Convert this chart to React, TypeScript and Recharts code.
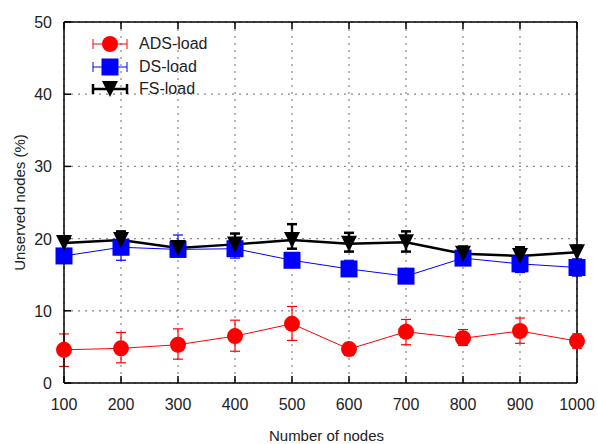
import {
  ComposedChart,
  Line,
  XAxis,
  YAxis,
  CartesianGrid,
  ErrorBar,
} from "recharts";

const nodes = [100, 200, 300, 400, 500, 600, 700, 800, 900, 1000];

const adsMean = [4.6, 4.8, 5.3, 6.5, 8.2, 4.7, 7.1, 6.2, 7.2, 5.8];
const adsLow = [2.3, 2.8, 3.3, 4.4, 5.9, 3.8, 5.3, 5.2, 5.5, 4.8];
const adsHigh = [6.8, 7.0, 7.5, 8.7, 10.6, 5.5, 8.8, 7.4, 9.0, 6.8];

const dsMean = [17.6, 18.8, 18.5, 18.6, 17.0, 15.8, 14.8, 17.3, 16.5, 16.0];
const dsLow = [17.0, 17.0, 17.5, 17.3, 16.0, 14.8, 14.2, 16.3, 15.3, 14.8];
const dsHigh = [18.4, 20.2, 20.5, 19.5, 18.0, 17.0, 15.4, 19.0, 17.3, 17.2];

const fsMean = [19.4, 19.8, 18.7, 19.2, 19.8, 19.3, 19.5, 17.9, 17.6, 18.1];
const fsLow = [18.5, 18.6, 17.8, 18.2, 18.6, 18.2, 18.2, 17.0, 16.8, 17.0];
const fsHigh = [20.2, 21.0, 19.5, 20.7, 22.0, 20.8, 21.0, 18.5, 18.8, 19.0];

const yTicks = [0, 10, 20, 30, 40, 50];

const data = nodes.map((n, i) => ({
  n,
  ads: adsMean[i],
  adsErr: [adsMean[i] - adsLow[i], adsHigh[i] - adsMean[i]],
  ds: dsMean[i],
  dsErr: [dsMean[i] - dsLow[i], dsHigh[i] - dsMean[i]],
  fs: fsMean[i],
  fsErr: [fsMean[i] - fsLow[i], fsHigh[i] - fsMean[i]],
}));

const FONT = "'Liberation Sans', Arial, sans-serif";

const series = [
  { key: "ads", name: "ADS-load", color: "#ff0000", width: 1, marker: "circle" },
  { key: "ds", name: "DS-load", color: "#0000ff", width: 1, marker: "square" },
  { key: "fs", name: "FS-load", color: "#000000", width: 2.5, marker: "tri" },
];

function Marker({ cx, cy, kind, color }: any) {
  if (cx == null || cy == null) return null;
  if (kind === "circle") return <circle cx={cx} cy={cy} r={8} fill={color} />;
  if (kind === "square")
    return <rect x={cx - 8.5} y={cy - 8.5} width={17} height={17} fill={color} />;
  return (
    <polygon
      points={`${cx - 8},${cy - 8} ${cx + 8},${cy - 8} ${cx},${cy + 8}`}
      fill={color}
    />
  );
}

function BottomTick({ x, y, payload }: any) {
  return (
    <g>
      <line x1={x} x2={x} y1={y} y2={y - 7} stroke="#000" strokeWidth={1.5} />
      <text x={x} y={y + 27} textAnchor="middle" fontSize={16} fill="#222" fontFamily={FONT}>
        {payload.value}
      </text>
    </g>
  );
}

function TopTick({ x, y }: any) {
  return <line x1={x} x2={x} y1={y} y2={y + 7} stroke="#000" strokeWidth={1.5} />;
}

function LeftTick({ x, y, payload }: any) {
  return (
    <g>
      <line x1={x} x2={x + 7} y1={y} y2={y} stroke="#000" strokeWidth={1.5} />
      <text x={x - 12} y={y + 6} textAnchor="end" fontSize={16} fill="#222" fontFamily={FONT}>
        {payload.value}
      </text>
    </g>
  );
}

function RightTick({ x, y }: any) {
  return <line x1={x} x2={x - 7} y1={y} y2={y} stroke="#000" strokeWidth={1.5} />;
}

function LegendBox() {
  return (
    <div style={{ fontFamily: FONT, fontSize: 16, color: "#222" }}>
      {series.map((s) => (
        <div key={s.key} style={{ display: "flex", alignItems: "center", height: 22.5 }}>
          <svg width={46} height={22} style={{ marginRight: 4 }}>
            <line x1={4} x2={38} y1={11} y2={11} stroke={s.color} strokeWidth={s.width} />
            <line x1={4} x2={4} y1={6} y2={16} stroke={s.color} strokeWidth={s.width} />
            <line x1={38} x2={38} y1={6} y2={16} stroke={s.color} strokeWidth={s.width} />
            <Marker cx={21} cy={11} kind={s.marker} color={s.color} />
          </svg>
          <span>{s.name}</span>
        </div>
      ))}
    </div>
  );
}

export default function App() {
  return (
    <div style={{ position: "absolute", left: 0, top: 0, width: 598, height: 444, background: "#fff" }}>
      <ComposedChart
        width={598}
        height={444}
        data={data}
        margin={{ top: 0, right: 0, bottom: 0, left: 0 }}
      >
        <CartesianGrid stroke="#888" strokeDasharray="2 5" strokeWidth={1.2} />
        <XAxis
          dataKey="n"
          type="number"
          domain={[100, 1000]}
          ticks={nodes}
          interval={0}
          height={61}
          tickSize={0}
          tickMargin={0}
          tick={<BottomTick />}
          axisLine={{ stroke: "#000", strokeWidth: 1.5 }}
          label={{
            value: "Number of nodes",
            position: "insideBottom",
            offset: 3,
            dx: 6,
            fontSize: 15,
            fill: "#222",
            fontFamily: FONT,
          }}
        />
        <XAxis
          xAxisId="top"
          dataKey="n"
          type="number"
          orientation="top"
          domain={[100, 1000]}
          ticks={nodes}
          interval={0}
          height={22}
          tickSize={0}
          tickMargin={0}
          tick={<TopTick />}
          axisLine={{ stroke: "#000", strokeWidth: 1.5 }}
        />
        <YAxis
          type="number"
          domain={[0, 50]}
          ticks={yTicks}
          interval={0}
          width={64}
          tickSize={0}
          tickMargin={0}
          tick={<LeftTick />}
          axisLine={{ stroke: "#000", strokeWidth: 1.5 }}
          label={{
            value: "Unserved nodes (%)",
            angle: -90,
            position: "insideLeft",
            offset: 20,
            style: { textAnchor: "middle" },
            fontSize: 15,
            fill: "#222",
            fontFamily: FONT,
          }}
        />
        <YAxis
          yAxisId="right"
          orientation="right"
          type="number"
          domain={[0, 50]}
          ticks={yTicks}
          interval={0}
          width={21}
          tickSize={0}
          tickMargin={0}
          tick={<RightTick />}
          axisLine={{ stroke: "#000", strokeWidth: 1.5 }}
        />
        {series.map((s) => (
          <Line
            key={s.key}
            dataKey={s.key}
            name={s.name}
            stroke={s.color}
            strokeWidth={s.width}
            isAnimationActive={false}
            dot={(p: any) => <Marker key={`${s.key}-${p.index}`} cx={p.cx} cy={p.cy} kind={s.marker} color={s.color} />}
            activeDot={false}
          >
            <ErrorBar
              dataKey={`${s.key}Err`}
              direction="y"
              width={5}
              stroke={s.color}
              strokeWidth={s.width === 1 ? 1.2 : 2.5}
            />
          </Line>
        ))}
      </ComposedChart>
      <div style={{ position: "absolute", left: 89, top: 33 }}>
        <LegendBox />
      </div>
    </div>
  );
}
